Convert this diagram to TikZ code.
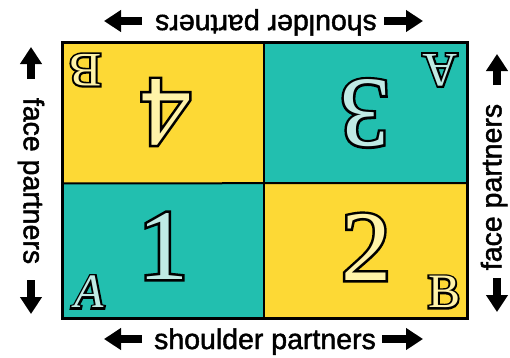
\documentclass[tikz,border=0pt]{standalone}
\usepackage{fontspec}
\setmainfont{Liberation Serif}
\newfontfamily\labfont[FakeBold=1.6]{Liberation Sans}
\newfontfamily\bignumfont[FakeBold=5]{Liberation Serif}
\newfontfamily\letfont[FakeBold=8]{Liberation Serif}
\usetikzlibrary{arrows.meta}
\definecolor{qyellow}{HTML}{FDD935}
\definecolor{qteal}{HTML}{22BFAF}
\definecolor{pyellow}{HTML}{FFF3A8}
\definecolor{pteal}{HTML}{BFEAE4}
\newcommand\hollowtxt[3]{\rlap{#3\color{black}#1}\textcolor{#2}{#1}}
\tikzset{
  quad/.style={draw=none, inner sep=0pt, anchor=north west},
  lab/.style={font=\labfont\fontsize{28.5}{28.5}\selectfont, inner sep=0pt},
  numtxt/.style={font=\fontsize{100}{100}\selectfont, inner sep=0pt},
  lettxt/.style={font=\fontsize{48}{48}\selectfont, inner sep=0pt},
  blockarrow/.style={line width=8pt, -{Triangle[length=17pt,width=21pt]}},
}
\begin{document}
\begin{tikzpicture}[x=1pt,y=-1pt]
\useasboundingbox[fill=white] (0,0) rectangle (510,357);
% quadrants
\node[quad, fill=qyellow, minimum width=202pt, minimum height=141pt] (q4) at (62,42) {};
\node[quad, fill=qteal, minimum width=203pt, minimum height=141pt] (q3) at (264,42) {};
\node[quad, fill=qteal, minimum width=202pt, minimum height=135pt] (q1) at (62,183) {};
\node[quad, fill=qyellow, minimum width=203pt, minimum height=135pt] (q2) at (264,183) {};
\draw[line width=2pt] (q4.north east) -- (q1.south east);
\draw[line width=2pt] (q4.south west) -- (q2.north east);
\draw[line width=3pt] (q4.north west) rectangle (q2.south east);
% numbers
\node[numtxt, rotate=180] (n4) at (166,112) {\hollowtxt{4}{pyellow}{\bignumfont}};
\node[numtxt, rotate=180] (n3) at (365,113) {\hollowtxt{3}{pteal}{\bignumfont}};
\node[numtxt] (n1) at (163,246) {\hollowtxt{1}{pteal}{\bignumfont}};
\node[numtxt] (n2) at (366,247) {\hollowtxt{2}{pyellow}{\bignumfont}};
% letters
\node[lettxt, rotate=180] (lb4) at (85,70) {\hollowtxt{B}{pyellow}{\letfont}};
\node[lettxt, rotate=180] (la3) at (440,70) {\hollowtxt{A}{pteal}{\letfont}};
\node[lettxt] (la1) at (89,292) {\hollowtxt{\itshape A}{pteal}{\letfont}};
\node[lettxt] (lb2) at (444,292) {\hollowtxt{B}{pyellow}{\letfont}};
% labels
\node[lab, rotate=180, anchor=base] (top) at (266,15) {shoulder partners};
\node[lab, anchor=base] (bot) at (265,349) {shoulder partners};
\node[lab, rotate=-90] (left) at (31,181) {face partners};
\node[lab, rotate=90] (right) at (494,187) {face partners};
% arrows
\coordinate (tl1) at (142,21); \coordinate (tl2) at (104,21);
\coordinate (tr1) at (384,21); \coordinate (tr2) at (423,21);
\coordinate (bl1) at (142,339); \coordinate (bl2) at (104,339);
\coordinate (br1) at (382,339); \coordinate (br2) at (423,339);
\coordinate (lu1) at (31,79); \coordinate (lu2) at (31,47);
\coordinate (ld1) at (31,280); \coordinate (ld2) at (31,314);
\coordinate (ru1) at (497,85); \coordinate (ru2) at (497,54);
\coordinate (rd1) at (497,278); \coordinate (rd2) at (497,312);
\foreach \a/\b in {tl1/tl2,tr1/tr2,bl1/bl2,br1/br2,lu1/lu2,ld1/ld2,ru1/ru2,rd1/rd2}
  \draw[blockarrow] (\a) -- (\b);
\end{tikzpicture}
\end{document}
